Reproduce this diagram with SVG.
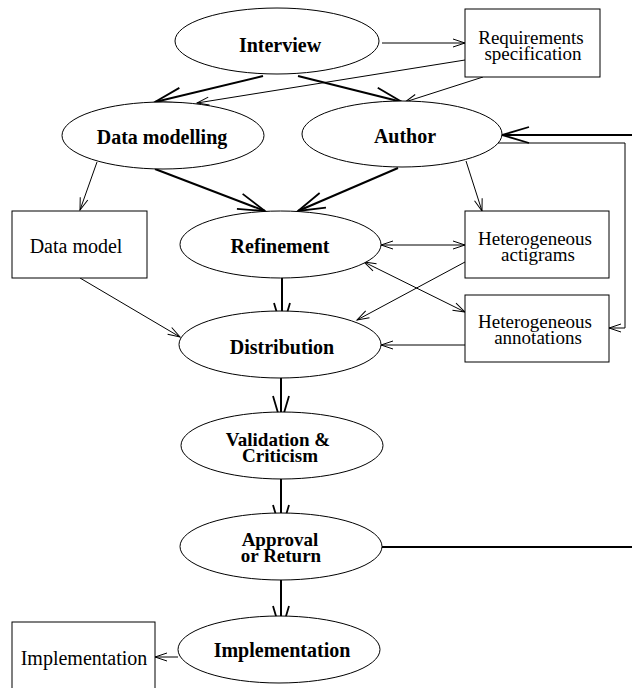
<svg xmlns="http://www.w3.org/2000/svg" width="632" height="688" viewBox="0 0 632 688">
<style>
.n{fill:#fff;stroke:#000;stroke-width:1}
.b{font-family:"Liberation Serif","Times New Roman",serif;font-weight:bold;font-size:20px;text-anchor:middle;fill:#000}
.r{font-family:"Liberation Serif","Times New Roman",serif;font-size:20px;text-anchor:middle;fill:#000}
.s{font-size:19px}
.t{fill:none;stroke:#000;stroke-width:1}
.k{fill:none;stroke:#000;stroke-width:2}
</style>
<defs>
<marker id="ah" markerUnits="userSpaceOnUse" viewBox="-14 -6 16 12" markerWidth="16" markerHeight="12" refX="0" refY="0" orient="auto-start-reverse" overflow="visible">
<path d="M-12,-4 L0,0 L-12,4" fill="none" stroke="#000" stroke-width="1"/>
</marker>
<marker id="AH" markerUnits="userSpaceOnUse" viewBox="-30 -10 32 20" markerWidth="32" markerHeight="20" refX="0" refY="0" orient="auto" overflow="visible">
<path d="M-27,-8 L0,0 L-27,8" fill="none" stroke="#000" stroke-width="1.8"/>
</marker>
</defs>
<rect width="632" height="688" fill="#fff"/>
<g id="connectors">
<line class="t" x1="382" y1="43" x2="465" y2="43" marker-end="url(#ah)"/>
<line class="t" x1="465" y1="60" x2="197" y2="103" marker-end="url(#ah)"/>
<line class="t" x1="483" y1="77" x2="405" y2="102" marker-end="url(#ah)"/>
<line class="t" x1="97" y1="162" x2="80" y2="210" marker-end="url(#ah)"/>
<line class="t" x1="466" y1="161" x2="482" y2="211" marker-end="url(#ah)"/>
<line class="t" x1="80" y1="278" x2="180" y2="337" marker-end="url(#ah)"/>
<line class="t" x1="381" y1="245" x2="465" y2="245" marker-start="url(#ah)" marker-end="url(#ah)"/>
<line class="t" x1="364" y1="262" x2="465" y2="312" marker-start="url(#ah)" marker-end="url(#ah)"/>
<line class="t" x1="465" y1="262" x2="357" y2="320" marker-end="url(#ah)"/>
<line class="t" x1="465" y1="345" x2="381" y2="345" marker-end="url(#ah)"/>
<polyline class="t" points="498,143 625,143 625,328 609,328" marker-end="url(#ah)"/>
<line class="t" x1="178" y1="657" x2="155" y2="657" marker-end="url(#ah)"/>
<line class="k" x1="263" y1="76" x2="155" y2="102" marker-end="url(#AH)"/>
<line class="k" x1="298" y1="76" x2="402" y2="102" marker-end="url(#AH)"/>
<line class="k" x1="155" y1="169" x2="265" y2="211" marker-end="url(#AH)"/>
<line class="k" x1="398" y1="168" x2="298" y2="211" marker-end="url(#AH)"/>
<line class="k" x1="282" y1="270" x2="282" y2="330" marker-end="url(#AH)"/>
<line class="k" x1="281" y1="363" x2="281" y2="423" marker-end="url(#AH)"/>
<line class="k" x1="281" y1="472" x2="281" y2="532" marker-end="url(#AH)"/>
<line class="k" x1="281" y1="573" x2="281" y2="633" marker-end="url(#AH)"/>
<line class="k" x1="632" y1="135" x2="502" y2="135" marker-end="url(#AH)"/>
<line class="k" x1="382" y1="547" x2="632" y2="547"/>
</g>
<g id="interview"><ellipse class="n" cx="277" cy="41" rx="102" ry="33"/><text class="b" x="280" y="52">Interview</text></g>
<g id="reqspec"><rect class="n" x="465" y="9" width="135" height="68"/><text class="r s" x="531" y="44">Requirements</text><text class="r s" x="533" y="60">specification</text></g>
<g id="datamodelling"><ellipse class="n" cx="163" cy="135.5" rx="101" ry="33.5"/><text class="b" x="162" y="144">Data modelling</text></g>
<g id="author"><ellipse class="n" cx="402" cy="134" rx="100" ry="33"/><text class="b" x="405" y="143">Author</text></g>
<g id="datamodel"><rect class="n" x="12" y="211" width="135" height="67"/><text class="r" x="76" y="253">Data model</text></g>
<g id="refinement"><ellipse class="n" cx="280.5" cy="244.5" rx="100.5" ry="33.5"/><text class="b" x="280" y="253">Refinement</text></g>
<g id="actigrams"><rect class="n" x="465" y="211" width="144" height="67"/><text class="r s" x="535" y="245">Heterogeneous</text><text class="r s" x="538" y="261">actigrams</text></g>
<g id="annotations"><rect class="n" x="465" y="295" width="144" height="67"/><text class="r s" x="535" y="328">Heterogeneous</text><text class="r s" x="538" y="344">annotations</text></g>
<g id="distribution"><ellipse class="n" cx="280" cy="344.5" rx="101" ry="33.5"/><text class="b" x="282" y="354">Distribution</text></g>
<g id="validation"><ellipse class="n" cx="282" cy="445.5" rx="101" ry="33.5"/><text class="b s" x="278" y="446">Validation &amp;</text><text class="b s" x="280" y="462">Criticism</text></g>
<g id="approval"><ellipse class="n" cx="281" cy="546.5" rx="101" ry="33.5"/><text class="b s" x="280" y="546">Approval</text><text class="b s" x="281" y="562">or Return</text></g>
<g id="implementation"><ellipse class="n" cx="279" cy="649.5" rx="101" ry="33.5"/><text class="b" x="282" y="657">Implementation</text></g>
<g id="implbox"><rect class="n" x="12" y="622" width="143" height="80"/><text class="r" x="84" y="665">Implementation</text></g>
</svg>
